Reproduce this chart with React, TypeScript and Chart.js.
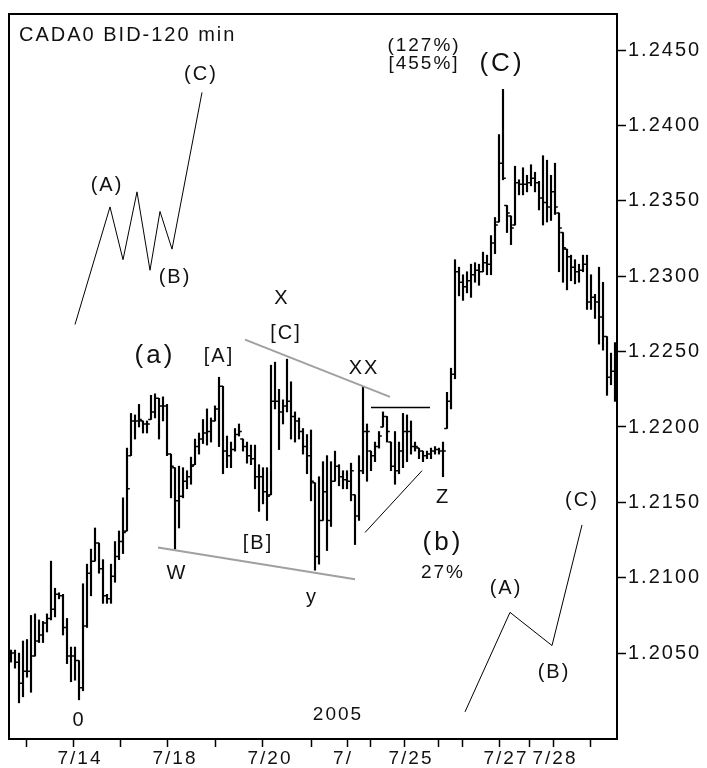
import React, { useEffect, useRef } from 'react';
import { Chart, registerables } from 'chart.js';

Chart.register(...registerables);

// ---- OHLC data (2-hour bars), index = bar number ----
const HIGH = [
  1.2052, 1.2052, 1.2050, 1.2058, 1.2059, 1.2075, 1.2076, 1.2072, 1.2071, 1.2076,
  1.2111, 1.2093, 1.2090, 1.2089, 1.2073, 1.2054, 1.2054, 1.2045, 1.2096, 1.2109,
  1.2119, 1.2133, 1.2123, 1.2112, 1.2089, 1.2109, 1.2124, 1.2131, 1.2153, 1.2186,
  1.2209, 1.2208, 1.2215, 1.2204, 1.2204, 1.2221, 1.2222, 1.2219, 1.2220, 1.2215,
  1.2182, 1.2173, 1.2174, 1.2173, 1.2171, 1.2180, 1.2192, 1.2196, 1.2205, 1.2212,
  1.2206, 1.2214, 1.2233, 1.2227, 1.2194, 1.2190, 1.2199, 1.2202, 1.2192, 1.2190,
  1.2188, 1.2188, 1.2175, 1.2173, 1.2173, 1.2241, 1.2243, 1.2225, 1.2218, 1.2245,
  1.2230, 1.2210, 1.2206, 1.2199, 1.2195, 1.2198, 1.2163, 1.2167, 1.2177, 1.2181,
  1.2177, 1.2184, 1.2175, 1.2171, 1.2171, 1.2176, 1.2155, 1.2181, 1.2227, 1.2202,
  1.2184, 1.2190, 1.2197, 1.2210, 1.2207, 1.2190, 1.2197, 1.2190, 1.2209, 1.2208,
  1.2204, 1.2190, 1.2186, 1.2184, 1.2184, 1.2186, 1.2187, 1.2186, 1.2190, 1.2223,
  1.2239, 1.2311, 1.2306, 1.2301, 1.2303, 1.2308, 1.2309, 1.2308, 1.2316, 1.2314,
  1.2327, 1.2339, 1.2394, 1.2424, 1.2347, 1.2340, 1.2373, 1.2364, 1.2372, 1.2367,
  1.2374, 1.2369, 1.2363, 1.2380, 1.2377, 1.2367, 1.2375, 1.2342, 1.2329, 1.2318,
  1.2314, 1.2311, 1.2308, 1.2314, 1.2314, 1.2301, 1.2288, 1.2306, 1.2296, 1.2260,
  1.2249, 1.2256,
];
const LOW = [
  1.2044, 1.2040, 1.2017, 1.2021, 1.2034, 1.2024, 1.2048, 1.2057, 1.2057, 1.2064,
  1.2072, 1.2074, 1.2086, 1.2062, 1.2043, 1.2031, 1.2032, 1.2019, 1.2025, 1.2067,
  1.2088, 1.2111, 1.2103, 1.2083, 1.2083, 1.2083, 1.2097, 1.2112, 1.2116, 1.2131,
  1.2181, 1.2192, 1.2200, 1.2196, 1.2196, 1.2205, 1.2206, 1.2192, 1.2204, 1.2181,
  1.2153, 1.2119, 1.2133, 1.2153, 1.2159, 1.2162, 1.2175, 1.2182, 1.2189, 1.2188,
  1.2190, 1.2204, 1.2187, 1.2169, 1.2173, 1.2173, 1.2184, 1.2194, 1.2184, 1.2176,
  1.2175, 1.2159, 1.2144, 1.2149, 1.2138, 1.2155, 1.2212, 1.2185, 1.2202, 1.2210,
  1.2192, 1.2190, 1.2192, 1.2182, 1.2169, 1.2151, 1.2105, 1.2109, 1.2138, 1.2118,
  1.2134, 1.2164, 1.2161, 1.2159, 1.2159, 1.2151, 1.2122, 1.2138, 1.2169, 1.2164,
  1.2171, 1.2177, 1.2186, 1.2200, 1.2190, 1.2171, 1.2162, 1.2169, 1.2173, 1.2177,
  1.2182, 1.2184, 1.2179, 1.2177, 1.2179, 1.2179, 1.2182, 1.2182, 1.2167, 1.2199,
  1.2212, 1.2232, 1.2287, 1.2284, 1.2289, 1.2286, 1.2296, 1.2294, 1.2303, 1.2301,
  1.2301, 1.2315, 1.2336, 1.2364, 1.2329, 1.2321, 1.2334, 1.2354, 1.2354, 1.2356,
  1.2360, 1.2356, 1.2344, 1.2334, 1.2336, 1.2337, 1.2341, 1.2303, 1.2296, 1.2291,
  1.2297, 1.2295, 1.2296, 1.2303, 1.2278, 1.2278, 1.2272, 1.2255, 1.2251, 1.2221,
  1.2228, 1.2217,
];
const OPEN = [
  1.2047, 1.2050, 1.2044, 1.2030, 1.2038, 1.2038, 1.2048, 1.2058, 1.2062, 1.2070,
  1.2073, 1.2079, 1.2089, 1.2088, 1.2067, 1.2048, 1.2048, 1.2045, 1.2027, 1.2068,
  1.2103, 1.2111, 1.2123, 1.2106, 1.2088, 1.2086, 1.2101, 1.2114, 1.2124, 1.2131,
  1.2181, 1.2204, 1.2204, 1.2204, 1.2202, 1.2205, 1.2210, 1.2219, 1.2214, 1.2214,
  1.2182, 1.2173, 1.2151, 1.2154, 1.2164, 1.2167, 1.2175, 1.2187, 1.2192, 1.2196,
  1.2197, 1.2204, 1.2212, 1.2227, 1.2184, 1.2181, 1.2185, 1.2195, 1.2192, 1.2187,
  1.2181, 1.2179, 1.2167, 1.2167, 1.2157, 1.2155, 1.2217, 1.2217, 1.2210, 1.2214,
  1.2217, 1.2207, 1.2204, 1.2197, 1.2187, 1.2181, 1.2163, 1.2114, 1.2138, 1.2157,
  1.2138, 1.2164, 1.2174, 1.2167, 1.2165, 1.2164, 1.2155, 1.2141, 1.2171, 1.2197,
  1.2184, 1.2181, 1.2187, 1.2200, 1.2207, 1.2190, 1.2174, 1.2171, 1.2184, 1.2197,
  1.2197, 1.2187, 1.2186, 1.2184, 1.2181, 1.2182, 1.2184, 1.2185, 1.2184, 1.2199,
  1.2217, 1.2235, 1.2303, 1.2296, 1.2293, 1.2297, 1.2301, 1.2304, 1.2303, 1.2309,
  1.2308, 1.2322, 1.2336, 1.2375, 1.2347, 1.2340, 1.2334, 1.2362, 1.2361, 1.2361,
  1.2362, 1.2365, 1.2362, 1.2352, 1.2349, 1.2346, 1.2356, 1.2342, 1.2329, 1.2318,
  1.2313, 1.2306, 1.2303, 1.2304, 1.2308, 1.2283, 1.2286, 1.2283, 1.2273, 1.2260,
  1.2233, 1.2237,
];
const CLOSE = [
  1.2050, 1.2044, 1.2030, 1.2038, 1.2038, 1.2048, 1.2058, 1.2062, 1.2070, 1.2073,
  1.2079, 1.2089, 1.2088, 1.2067, 1.2048, 1.2048, 1.2045, 1.2027, 1.2068, 1.2103,
  1.2111, 1.2123, 1.2106, 1.2088, 1.2086, 1.2101, 1.2114, 1.2124, 1.2130, 1.2159,
  1.2204, 1.2204, 1.2205, 1.2202, 1.2202, 1.2210, 1.2219, 1.2214, 1.2214, 1.2182,
  1.2174, 1.2151, 1.2154, 1.2164, 1.2167, 1.2174, 1.2187, 1.2192, 1.2196, 1.2197,
  1.2204, 1.2212, 1.2227, 1.2184, 1.2181, 1.2185, 1.2195, 1.2197, 1.2187, 1.2181,
  1.2179, 1.2167, 1.2167, 1.2157, 1.2154, 1.2217, 1.2217, 1.2210, 1.2214, 1.2217,
  1.2207, 1.2204, 1.2197, 1.2187, 1.2181, 1.2164, 1.2114, 1.2138, 1.2157, 1.2138,
  1.2164, 1.2174, 1.2167, 1.2165, 1.2164, 1.2171, 1.2141, 1.2171, 1.2197, 1.2197,
  1.2181, 1.2187, 1.2194, 1.2207, 1.2197, 1.2174, 1.2171, 1.2184, 1.2197, 1.2197,
  1.2187, 1.2187, 1.2184, 1.2181, 1.2182, 1.2184, 1.2185, 1.2184, 1.2184, 1.2217,
  1.2235, 1.2303, 1.2296, 1.2293, 1.2297, 1.2301, 1.2304, 1.2303, 1.2309, 1.2308,
  1.2322, 1.2334, 1.2375, 1.2365, 1.2342, 1.2332, 1.2362, 1.2361, 1.2361, 1.2362,
  1.2365, 1.2362, 1.2352, 1.2349, 1.2346, 1.2356, 1.2346, 1.2332, 1.2319, 1.2313,
  1.2306, 1.2303, 1.2304, 1.2308, 1.2283, 1.2286, 1.2283, 1.2273, 1.2260, 1.2233,
  1.2237, 1.2223,
];

// ---- axes ----
const X_TICKS = [9.75, 21.5, 33, 45.25, 56.75, 69, 81, 87.25, 92.25, 104.25, 109.25, 116.25, 128, 131, 140.25];
const X_TICK_LABELS = ['', '7/14', '', '7/18', '', '7/20', '', '7/', '', '7/25', '', '', '7/27', '', '7/28'];
const Y_TICKS = [1.205, 1.21, 1.215, 1.22, 1.225, 1.23, 1.235, 1.24, 1.245];
const X_MIN = -0.5;
const X_MAX = 151.5;
const Y_MIN = 1.1993;
const Y_MAX = 1.2474;

// ---- wave drawings (data coordinates: bar index, price) ----
const SCHEMATIC_UP = [
  { x: 16, y: 1.2268 }, { x: 24.75, y: 1.2346 }, { x: 28, y: 1.2311 }, { x: 31.5, y: 1.2356 },
  { x: 34.75, y: 1.2304 }, { x: 37.25, y: 1.2343 }, { x: 40.25, y: 1.2318 }, { x: 47.75, y: 1.2422 },
];
const SCHEMATIC_ABC = [
  { x: 113.5, y: 1.2011 }, { x: 124.75, y: 1.2077 }, { x: 135.25, y: 1.2055 }, { x: 142.75, y: 1.2135 },
];
const TREND_W_Y = [{ x: 36.75, y: 1.212 }, { x: 86, y: 1.2099 }];
const TREND_X_XX = [{ x: 58.5, y: 1.2258 }, { x: 94.75, y: 1.222 }];
const TRIANGLE_TOP = [{ x: 90, y: 1.2213 }, { x: 104.75, y: 1.2213 }];
const TRIANGLE_BOTTOM = [{ x: 88.5, y: 1.213 }, { x: 102.75, y: 1.2171 }];

const LABEL_TEXT = ['(C)', '(A)', '(B)', '(127%)', '[455%]', '(C)', 'X', '[C]', '(a)', '[A]', 'XX', 'W', '[B]', 'y', '0', '2005', 'Z', '(b)', '27%', '(A)', '(B)', '(C)'];
const LABEL_X = [47.5, 24, 41, 103.25, 103.25, 122.75, 67.75, 68.75, 36, 52, 88.25, 41.5, 61.75, 75.25, 17, 81.75, 108, 108, 108, 123.75, 135.75, 142.75];
const LABEL_Y = [1.2434, 1.236, 1.2299, 1.2453, 1.2441, 1.2441, 1.2285, 1.2262, 1.2247, 1.2247, 1.2239, 1.2103, 1.2123, 1.2087, 1.2005, 1.2009, 1.2153, 1.2123, 1.2103, 1.2093, 1.2037, 1.2151];
const BIG_LABEL_INDEX = [5, 8, 17];
const TITLE = 'CADA0 BID-120 min';

const FONT = '"Liberation Sans", Arial, sans-serif';

const spacingPlugin = {
  id: 'spacing',
  beforeDraw(chart: any) {
    chart.ctx.letterSpacing = '2px';
  },
};

const ohlcPlugin = {
  id: 'ohlcTicks',
  afterDatasetsDraw(chart: any) {
    const { ctx, scales, chartArea } = chart;
    const xs = scales.x;
    const ys = scales.y;
    ctx.save();
    ctx.beginPath();
    ctx.rect(chartArea.left, chartArea.top, chartArea.right - chartArea.left, chartArea.bottom - chartArea.top);
    ctx.clip();
    ctx.strokeStyle = '#000';
    ctx.lineWidth = 1.5;
    ctx.beginPath();
    for (let i = 0; i < CLOSE.length; i++) {
      const px = xs.getPixelForValue(i);
      const yo = ys.getPixelForValue(OPEN[i]);
      const yc = ys.getPixelForValue(CLOSE[i]);
      ctx.moveTo(px - 2.8, yo);
      ctx.lineTo(px, yo);
      ctx.moveTo(px, yc);
      ctx.lineTo(px + 2.8, yc);
    }
    ctx.stroke();
    ctx.restore();
  },
};

const labelPlugin = {
  id: 'waveLabels',
  afterDraw(chart: any) {
    const { ctx, scales, chartArea } = chart;
    const xs = scales.x;
    const ys = scales.y;
    ctx.save();
    ctx.strokeStyle = '#000';
    ctx.lineWidth = 2;
    ctx.strokeRect(chartArea.left, chartArea.top, chartArea.right - chartArea.left, chartArea.bottom - chartArea.top);
    ctx.fillStyle = '#111';
    ctx.textBaseline = 'middle';
    ctx.textAlign = 'left';
    ctx.letterSpacing = '2px';
    ctx.font = `20px ${FONT}`;
    ctx.fillText(TITLE, chartArea.left + 10, chartArea.top + 21);
    ctx.textAlign = 'center';
    for (let i = 0; i < LABEL_TEXT.length; i++) {
      const t = LABEL_TEXT[i];
      const big = BIG_LABEL_INDEX.includes(i);
      const small = t.includes('%') || t === '2005';
      ctx.font = big ? `26px ${FONT}` : small ? `19px ${FONT}` : `20px ${FONT}`;
      ctx.letterSpacing = big ? '3px' : '2px';
      ctx.fillText(t, xs.getPixelForValue(LABEL_X[i]), ys.getPixelForValue(LABEL_Y[i]));
    }
    ctx.restore();
  },
};

export default function App() {
  const ref = useRef<HTMLCanvasElement | null>(null);

  useEffect(() => {
    if (!ref.current) return;
    Chart.defaults.font.family = FONT;
    Chart.defaults.font.size = 20;
    Chart.defaults.color = '#111';

    const lineDs = (data: any[], color: string, width: number) => ({
      type: 'line' as const,
      data,
      borderColor: color,
      borderWidth: width,
      pointRadius: 0,
      fill: false,
      tension: 0,
      order: 0,
    });

    const chart = new Chart(ref.current, {
      type: 'bar',
      data: {
        datasets: [
          lineDs(TREND_W_Y, '#a0a0a0', 2) as any,
          lineDs(TREND_X_XX, '#a0a0a0', 2) as any,
          {
            type: 'bar',
            data: HIGH.map((h, i) => ({ x: i, y: [LOW[i], h] })),
            backgroundColor: '#000',
            borderWidth: 0,
            barThickness: 1.5,
            order: 1,
          } as any,
          lineDs(SCHEMATIC_UP, '#000', 1) as any,
          lineDs(SCHEMATIC_ABC, '#000', 1) as any,
          lineDs(TRIANGLE_TOP, '#000', 1.5) as any,
          lineDs(TRIANGLE_BOTTOM, '#000', 1) as any,
        ],
      },
      options: {
        animation: false,
        responsive: false,
        devicePixelRatio: 1,
        layout: { padding: { left: 9, top: 11, right: 0, bottom: 0 } },
        plugins: { legend: { display: false }, tooltip: { enabled: false }, title: { display: false } },
        scales: {
          x: {
            type: 'linear',
            min: X_MIN,
            max: X_MAX,
            offset: false,
            afterBuildTicks: (scale: any) => {
              scale.ticks = X_TICKS.map((v) => ({ value: v }));
            },
            afterFit: (scale: any) => {
              scale.height = 29;
            },
            ticks: {
              autoSkip: false,
              maxRotation: 0,
              minRotation: 0,
              labelOffset: -17,
              padding: 0,
              font: { size: 19 },
              callback: (_v: any, idx: number) => X_TICK_LABELS[idx],
            },
            grid: { drawOnChartArea: false, drawTicks: true, tickLength: 8, tickColor: '#000', tickWidth: 1.5 },
            border: { display: false },
          },
          y: {
            type: 'linear',
            position: 'right',
            min: Y_MIN,
            max: Y_MAX,
            afterBuildTicks: (scale: any) => {
              scale.ticks = Y_TICKS.map((v) => ({ value: v }));
            },
            afterFit: (scale: any) => {
              scale.width = 90;
            },
            ticks: {
              padding: 2,
              font: { size: 20 },
              callback: (v: any) => Number(v).toFixed(4),
            },
            grid: { drawOnChartArea: false, drawTicks: true, tickLength: 9, tickColor: '#000', tickWidth: 1.5 },
            border: { display: false },
          },
        },
      },
      plugins: [spacingPlugin, ohlcPlugin, labelPlugin],
    } as any);

    return () => chart.destroy();
  }, []);

  return (
    <div style={{ position: 'fixed', left: 0, top: 0, width: 707, height: 768, background: '#fff' }}>
      <canvas ref={ref} width={707} height={768} style={{ display: 'block', width: 707, height: 768 }} />
    </div>
  );
}
